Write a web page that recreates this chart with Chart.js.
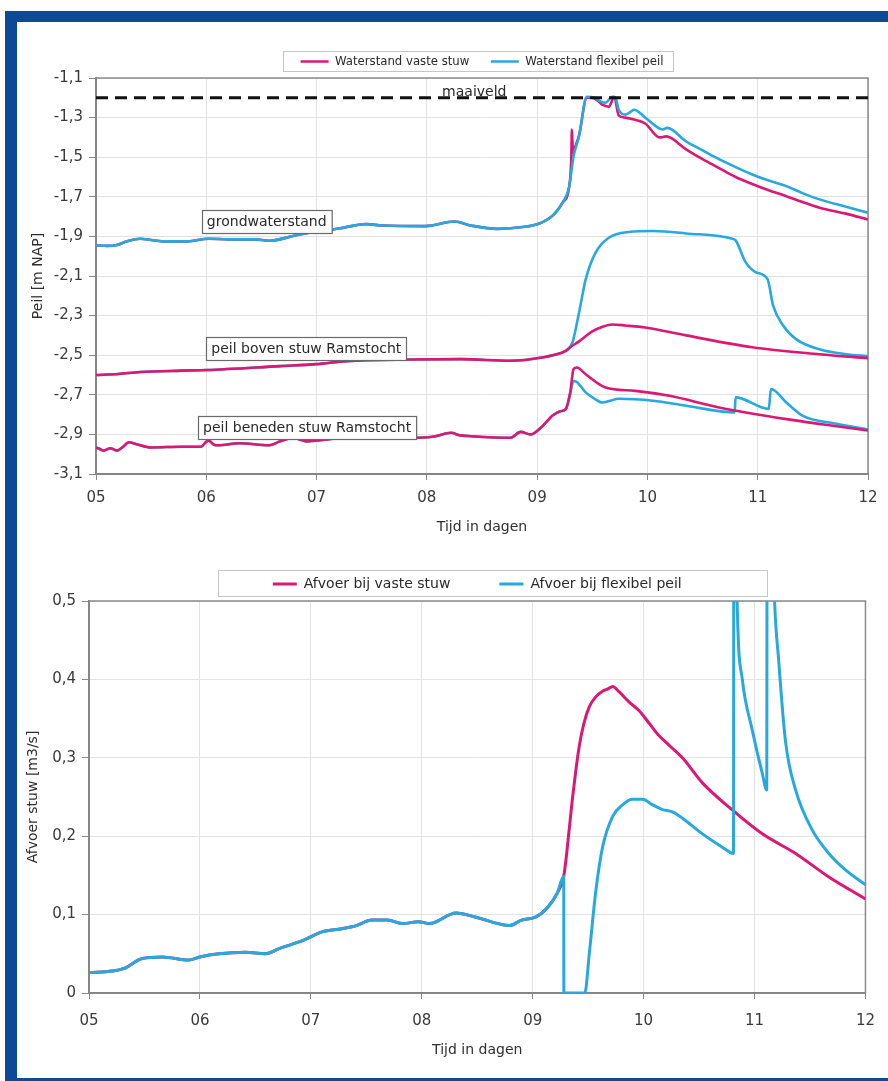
<!DOCTYPE html>
<html>
<head>
<meta charset="utf-8">
<title>Peil en afvoer stuw Ramstocht</title>
<script src="https://cdn.jsdelivr.net/npm/chart.js@4.4.1/dist/chart.umd.min.js"></script>
<style>
  body { margin: 0; background: #fff; }
  #page { position: relative; width: 888px; height: 1081px; overflow: hidden; background: #fff; }
  .frame {
    position: absolute; left: 5px; top: 11px; width: 883px; height: 1070px; box-sizing: border-box;
    border-top: 11px solid #0b4a97; border-left: 12px solid #0b4a97; border-bottom: 3px solid #0b4a97;
  }
  #peilChart { position: absolute; left: 0; top: 0; }
  #afvoerChart { position: absolute; left: 0; top: 490px; }
</style>
</head>
<body>
<div id="page">
  <div class="frame"></div>
  <canvas id="peilChart" width="888" height="540"></canvas>
  <canvas id="afvoerChart" width="888" height="591"></canvas>
</div>
<script>
// x-as: tijd in dagen
const dagTicks = [5, 6, 7, 8, 9, 10, 11, 12];
const peilTicks = [-3.1, -2.9, -2.7, -2.5, -2.3, -2.1, -1.9, -1.7, -1.5, -1.3, -1.1];
const afvoerTicks = [0, 0.1, 0.2, 0.3, 0.4, 0.5];
const maaiveld = -1.2;

// grondwaterstand [m NAP]; gezamenlijk deel tot de bui
const gwBasisDagen = [5.0, 5.1, 5.18, 5.28, 5.4, 5.5, 5.6, 5.83, 6.02, 6.2, 6.44, 6.57, 6.81, 6.97, 7.2, 7.45, 7.6, 7.99, 8.25, 8.4, 8.64, 8.83, 9.02, 9.15, 9.23, 9.29];
const gwBasis = [-1.945, -1.948, -1.945, -1.925, -1.912, -1.918, -1.925, -1.925, -1.912, -1.915, -1.915, -1.922, -1.895, -1.878, -1.86, -1.838, -1.845, -1.848, -1.825, -1.845, -1.862, -1.855, -1.835, -1.79, -1.73, -1.65];
const gwVastDagen = [9.31, 9.315, 9.325, 9.33, 9.38, 9.45, 9.5, 9.56, 9.59, 9.65, 9.7, 9.74, 9.8, 9.88, 9.98, 10.11, 10.17, 10.35, 10.5, 10.65, 10.8, 10.95, 11.1, 11.26, 11.4, 11.56, 11.8, 12.0];
const gwVast = [-1.5, -1.36, -1.48, -1.47, -1.39, -1.2, -1.2, -1.22, -1.235, -1.245, -1.195, -1.29, -1.3, -1.31, -1.33, -1.4, -1.395, -1.46, -1.51, -1.555, -1.6, -1.635, -1.667, -1.697, -1.725, -1.755, -1.785, -1.815];
const gwFlexDagen = [9.33, 9.38, 9.45, 9.52, 9.56, 9.62, 9.68, 9.71, 9.74, 9.8, 9.85, 9.88, 9.98, 10.14, 10.18, 10.35, 10.5, 10.65, 10.8, 10.95, 11.1, 11.26, 11.4, 11.56, 11.8, 12.0];
const gwFlex = [-1.495, -1.394, -1.195, -1.2, -1.215, -1.225, -1.195, -1.2, -1.26, -1.285, -1.27, -1.26, -1.3, -1.36, -1.352, -1.42, -1.465, -1.51, -1.55, -1.587, -1.618, -1.646, -1.68, -1.713, -1.75, -1.78];

// peil boven stuw Ramstocht
const bovenBasisDagen = [5.0, 5.2, 5.4, 5.78, 6.0, 6.67, 7.0, 7.27, 7.87, 8.31, 8.76, 9.06, 9.14, 9.26];
const bovenBasis = [-2.6, -2.595, -2.585, -2.578, -2.575, -2.555, -2.545, -2.53, -2.522, -2.52, -2.528, -2.51, -2.5, -2.478];
const bovenVastDagen = [9.3, 9.38, 9.5, 9.6, 9.68, 9.8, 9.98, 10.35, 10.95, 11.56, 12.0];
const bovenVast = [-2.46, -2.43, -2.38, -2.355, -2.345, -2.35, -2.36, -2.4, -2.46, -2.495, -2.515];
const bovenFlexDagen = [9.32, 9.38, 9.44, 9.53, 9.65, 9.83, 10.05, 10.35, 10.77, 10.8, 10.89, 10.98, 11.09, 11.14, 11.23, 11.35, 11.56, 11.8, 12.0];
const bovenFlex = [-2.436, -2.285, -2.117, -1.982, -1.907, -1.878, -1.873, -1.885, -1.912, -1.92, -2.03, -2.08, -2.117, -2.25, -2.35, -2.42, -2.47, -2.495, -2.505];

// peil beneden stuw Ramstocht
const benedenBasisDagen = [5.0, 5.04, 5.07, 5.13, 5.19, 5.24, 5.3, 5.37, 5.5, 5.78, 5.95, 6.02, 6.07, 6.11, 6.3, 6.57, 6.67, 6.79, 6.87, 6.91, 7.1, 7.27, 7.57, 7.87, 8.05, 8.22, 8.3, 8.37, 8.76, 8.85, 8.94, 9.02, 9.09, 9.14, 9.21, 9.26, 9.3];
const benedenBasis = [-2.966, -2.975, -2.982, -2.97, -2.982, -2.965, -2.94, -2.95, -2.966, -2.962, -2.962, -2.93, -2.952, -2.955, -2.945, -2.955, -2.935, -2.918, -2.93, -2.935, -2.925, -2.917, -2.908, -2.917, -2.912, -2.892, -2.905, -2.908, -2.917, -2.887, -2.9, -2.873, -2.833, -2.805, -2.783, -2.772, -2.69];
const benedenVastDagen = [9.33, 9.36, 9.44, 9.62, 9.89, 10.2, 10.65, 11.26, 11.6, 12.0];
const benedenVast = [-2.57, -2.562, -2.596, -2.663, -2.68, -2.705, -2.764, -2.823, -2.85, -2.88];
const benedenFlexDagen = [9.33, 9.36, 9.44, 9.52, 9.59, 9.66, 9.74, 10.05, 10.35, 10.79, 10.8, 11.1, 11.12, 11.26, 11.41, 11.7, 12.0];
const benedenFlex = [-2.63, -2.635, -2.688, -2.72, -2.739, -2.73, -2.72, -2.73, -2.755, -2.789, -2.713, -2.772, -2.671, -2.739, -2.806, -2.845, -2.875];

// afvoer stuw [m3/s]
const afvoerBasisDagen = [5.0, 5.21, 5.31, 5.48, 5.66, 5.9, 6.0, 6.17, 6.41, 6.59, 6.72, 6.93, 7.1, 7.28, 7.41, 7.55, 7.69, 7.83, 7.97, 8.07, 8.31, 8.48, 8.69, 8.79, 8.9, 9.03, 9.14, 9.22, 9.28];
const afvoerBasis = [0.026, 0.028, 0.031, 0.044, 0.046, 0.042, 0.046, 0.05, 0.052, 0.05, 0.057, 0.067, 0.078, 0.082, 0.086, 0.093, 0.093, 0.0885, 0.091, 0.0885, 0.102, 0.097, 0.0885, 0.086, 0.093, 0.097, 0.11, 0.127, 0.149];
const afvoerVastDagen = [9.3, 9.33, 9.36, 9.39, 9.42, 9.46, 9.51, 9.57, 9.63, 9.68, 9.72, 9.78, 9.87, 9.96, 10.05, 10.14, 10.23, 10.35, 10.53, 10.77, 11.07, 11.37, 11.67, 12.0];
const afvoerVast = [0.17, 0.21, 0.25, 0.285, 0.315, 0.343, 0.365, 0.378, 0.385, 0.388, 0.391, 0.384, 0.371, 0.36, 0.344, 0.328, 0.316, 0.3, 0.268, 0.237, 0.203, 0.178, 0.148, 0.12];
const afvoerFlexDagen = [9.281, 9.47, 9.51, 9.57, 9.63, 9.72, 9.81, 9.9, 9.99, 10.08, 10.17, 10.26, 10.35, 10.53, 10.71, 10.81, 10.815, 10.84, 10.89, 10.98, 11.07, 11.11, 11.115, 11.175, 11.22, 11.28, 11.37, 11.52, 11.67, 11.82, 12.0];
const afvoerFlex = [0, 0, 0.05, 0.131, 0.186, 0.225, 0.24, 0.247, 0.247, 0.24, 0.234, 0.231, 0.223, 0.203, 0.186, 0.178, 0.9, 0.52, 0.4, 0.335, 0.28, 0.259, 0.9, 0.52, 0.42, 0.32, 0.259, 0.208, 0.178, 0.157, 0.138];

const MAGENTA = "#dc1874";
const CYAAN = "#27a9df";
const SANS = "'DejaVu Sans', sans-serif";
const NARROW = "'Liberation Sans Narrow', 'DejaVu Sans Condensed', sans-serif";

Chart.defaults.font.family = SANS;
Chart.defaults.color = "#333";

function punten(dagen, waarden) {
    return dagen.map((d, i) => ({ x: d, y: waarden[i] }));
}

function lijn(label, kleur, data, dikte, volgorde) {
    return {
        label: label,
        data: data,
        borderColor: kleur,
        backgroundColor: kleur,
        borderWidth: dikte,
        pointRadius: 0,
        cubicInterpolationMode: "monotone",
        order: volgorde
    };
}

function komma(v) {
    return v === 0 ? "0" : v.toFixed(1).replace(".", ",");
}

// kader om plotvlak en legenda
const kaderPlugin = {
    id: "kader",
    beforeDatasetsDraw(chart, args, opts) {
        const { ctx, chartArea: a } = chart;
        ctx.save();
        ctx.strokeStyle = "#8a8a8a";
        ctx.lineWidth = 1.5;
        ctx.strokeRect(a.left, a.top, a.right - a.left, a.bottom - a.top);
        ctx.restore();
    },
    afterDraw(chart, args, opts) {
        const boxes = chart.legend && chart.legend.legendHitBoxes;
        if (!boxes || !boxes.length) return;
        const m = opts.marge;
        const first = boxes[0];
        const last = boxes[boxes.length - 1];
        const x0 = Math.round(first.left - m[0]) + 0.5;
        const x1 = Math.round(last.left + last.width + m[1]) + 0.5;
        const y0 = Math.round(first.top - m[2]) + 0.5;
        const y1 = Math.round(first.top + first.height + m[3]) + 0.5;
        const ctx = chart.ctx;
        ctx.save();
        ctx.strokeStyle = "#c6c6c6";
        ctx.lineWidth = 1;
        ctx.strokeRect(x0, y0, x1 - x0, y1 - y0);
        ctx.restore();
    }
};

// tekstvakken in de grafiek
const tekstPlugin = {
    id: "tekstvakken",
    afterDatasetsDraw(chart, args, opts) {
        if (!opts.items) return;
        const { ctx, scales } = chart;
        ctx.save();
        ctx.font = opts.font;
        ctx.textBaseline = "middle";
        opts.items.forEach(item => {
            const px = scales.x.getPixelForValue(item.x);
            const py = scales.y.getPixelForValue(item.y);
            const w = ctx.measureText(item.text).width;
            if (item.box) {
                const bx = Math.round(px) + 0.5, by = Math.round(py - 11.5) + 0.5;
                ctx.fillStyle = "#fff";
                ctx.fillRect(bx, by, w + 10, 23);
                ctx.strokeStyle = "#6a6a6a";
                ctx.lineWidth = 1.2;
                ctx.strokeRect(bx, by, w + 10, 23);
                ctx.fillStyle = "#2a2a2a";
                ctx.textAlign = "left";
                ctx.fillText(item.text, px + 5, py + 1);
            } else {
                ctx.fillStyle = "#2a2a2a";
                ctx.textAlign = "center";
                ctx.fillText(item.text, px, py);
            }
        });
        ctx.restore();
    }
};

function schalen(o) {
    return {
        x: {
            type: "linear",
            min: dagTicks[0],
            max: dagTicks[dagTicks.length - 1],
            afterBuildTicks: s => { s.ticks = dagTicks.map(v => ({ value: v })); },
            afterFit: s => { s.height = o.xHoogte; },
            ticks: {
                callback: v => (v < 10 ? "0" : "") + v,
                font: { size: 15 },
                color: "#3a3a3a",
                padding: o.xPad,
                maxRotation: 0
            },
            grid: { color: "#e3e3e3", tickColor: "#8a8a8a", tickLength: 6 },
            border: { color: "#7a7a7a", width: 2 },
            title: {
                display: true,
                text: "Tijd in dagen",
                font: { size: 14 },
                color: "#2f2f2f",
                padding: { top: 0, bottom: o.xTitelPad }
            }
        },
        y: {
            type: "linear",
            min: o.yTicks[0],
            max: o.yTicks[o.yTicks.length - 1],
            afterBuildTicks: s => { s.ticks = o.yTicks.map(v => ({ value: v })); },
            afterFit: s => { s.width = o.yBreedte; },
            ticks: {
                callback: v => komma(v),
                font: { size: 15 },
                color: "#3a3a3a",
                padding: 6
            },
            grid: { color: "#e3e3e3", tickColor: "#8a8a8a", tickLength: 7 },
            border: { color: "#7a7a7a", width: 2 },
            title: {
                display: true,
                text: o.yTitel,
                font: { size: 14 },
                color: "#2f2f2f",
                padding: { top: 0, bottom: 0 }
            }
        }
    };
}

const peilChart = new Chart(document.getElementById("peilChart"), {
    type: "line",
    data: {
        datasets: [
            lijn("Waterstand vaste stuw", MAGENTA, punten(gwBasisDagen.concat(gwVastDagen), gwBasis.concat(gwVast)), 2.6, 3),
            lijn("Waterstand flexibel peil", CYAAN, punten(gwBasisDagen.concat(gwFlexDagen), gwBasis.concat(gwFlex)), 2.6, 2),
            lijn("Peil boven stuw, vaste stuw", MAGENTA, punten(bovenBasisDagen.concat(bovenVastDagen), bovenBasis.concat(bovenVast)), 2.6, 1),
            lijn("Peil boven stuw, flexibel peil", CYAAN, punten(bovenBasisDagen.concat(bovenFlexDagen), bovenBasis.concat(bovenFlex)), 2.6, 4),
            lijn("Peil beneden stuw, vaste stuw", MAGENTA, punten(benedenBasisDagen.concat(benedenVastDagen), benedenBasis.concat(benedenVast)), 2.6, 1),
            lijn("Peil beneden stuw, flexibel peil", CYAAN, punten(benedenBasisDagen.concat(benedenFlexDagen), benedenBasis.concat(benedenFlex)), 2.6, 4),
            {
                label: "maaiveld",
                data: [{ x: dagTicks[0], y: maaiveld }, { x: dagTicks[dagTicks.length - 1], y: maaiveld }],
                borderColor: "#111",
                borderWidth: 3,
                borderDash: [12, 7],
                pointRadius: 0,
                order: 0
            }
        ]
    },
    options: {
        responsive: false,
        animation: false,
        events: [],
        layout: { padding: { top: 33.5, left: 30, right: 20, bottom: 0 } },
        scales: schalen({ yTicks: peilTicks, yTitel: "Peil [m NAP]", yBreedte: 66, xHoogte: 66, xPad: 9, xTitelPad: 4.6 }),
        plugins: {
            tooltip: { enabled: false },
            legend: {
                position: "top",
                fullSize: false,
                labels: {
                    usePointStyle: true,
                    pointStyle: "line",
                    pointStyleWidth: 28,
                    font: { family: NARROW, size: 13 },
                    color: "#2a2a2a",
                    padding: 21.5,
                    filter: item => item.datasetIndex < 2,
                    sort: (a, b) => a.datasetIndex - b.datasetIndex
                }
            },
            kader: { marge: [18, 10, 4, 3] },
            tekstvakken: {
                font: "14px 'DejaVu Sans', sans-serif",
                items: [
                    { text: "grondwaterstand", x: 5.96, y: -1.825, box: true },
                    { text: "peil boven stuw Ramstocht", x: 6.0, y: -2.466, box: true },
                    { text: "peil beneden stuw Ramstocht", x: 5.925, y: -2.865, box: true },
                    { text: "maaiveld", x: 8.43, y: -1.172, box: false }
                ]
            }
        }
    },
    plugins: [kaderPlugin, tekstPlugin]
});

const afvoerChart = new Chart(document.getElementById("afvoerChart"), {
    type: "line",
    data: {
        datasets: [
            lijn("Afvoer bij vaste stuw", MAGENTA, punten(afvoerBasisDagen.concat(afvoerVastDagen), afvoerBasis.concat(afvoerVast)), 3, 2),
            lijn("Afvoer bij flexibel peil", CYAAN, punten(afvoerBasisDagen.concat(afvoerFlexDagen), afvoerBasis.concat(afvoerFlex)), 3, 1)
        ]
    },
    options: {
        responsive: false,
        animation: false,
        events: [],
        layout: { padding: { top: 38, left: 24.6, right: 19, bottom: 0 } },
        scales: schalen({ yTicks: afvoerTicks, yTitel: "Afvoer stuw [m3/s]", yBreedte: 64.4, xHoogte: 88, xPad: 13, xTitelPad: 22.6 }),
        plugins: {
            tooltip: { enabled: false },
            legend: {
                position: "top",
                fullSize: false,
                labels: {
                    usePointStyle: true,
                    pointStyle: "line",
                    pointStyleWidth: 24,
                    font: { family: SANS, size: 14 },
                    color: "#2a2a2a",
                    padding: 49,
                    sort: (a, b) => a.datasetIndex - b.datasetIndex
                }
            },
            kader: { marge: [55, 85, 7, 5] }
        }
    },
    plugins: [kaderPlugin]
});
</script>
</body>
</html>
